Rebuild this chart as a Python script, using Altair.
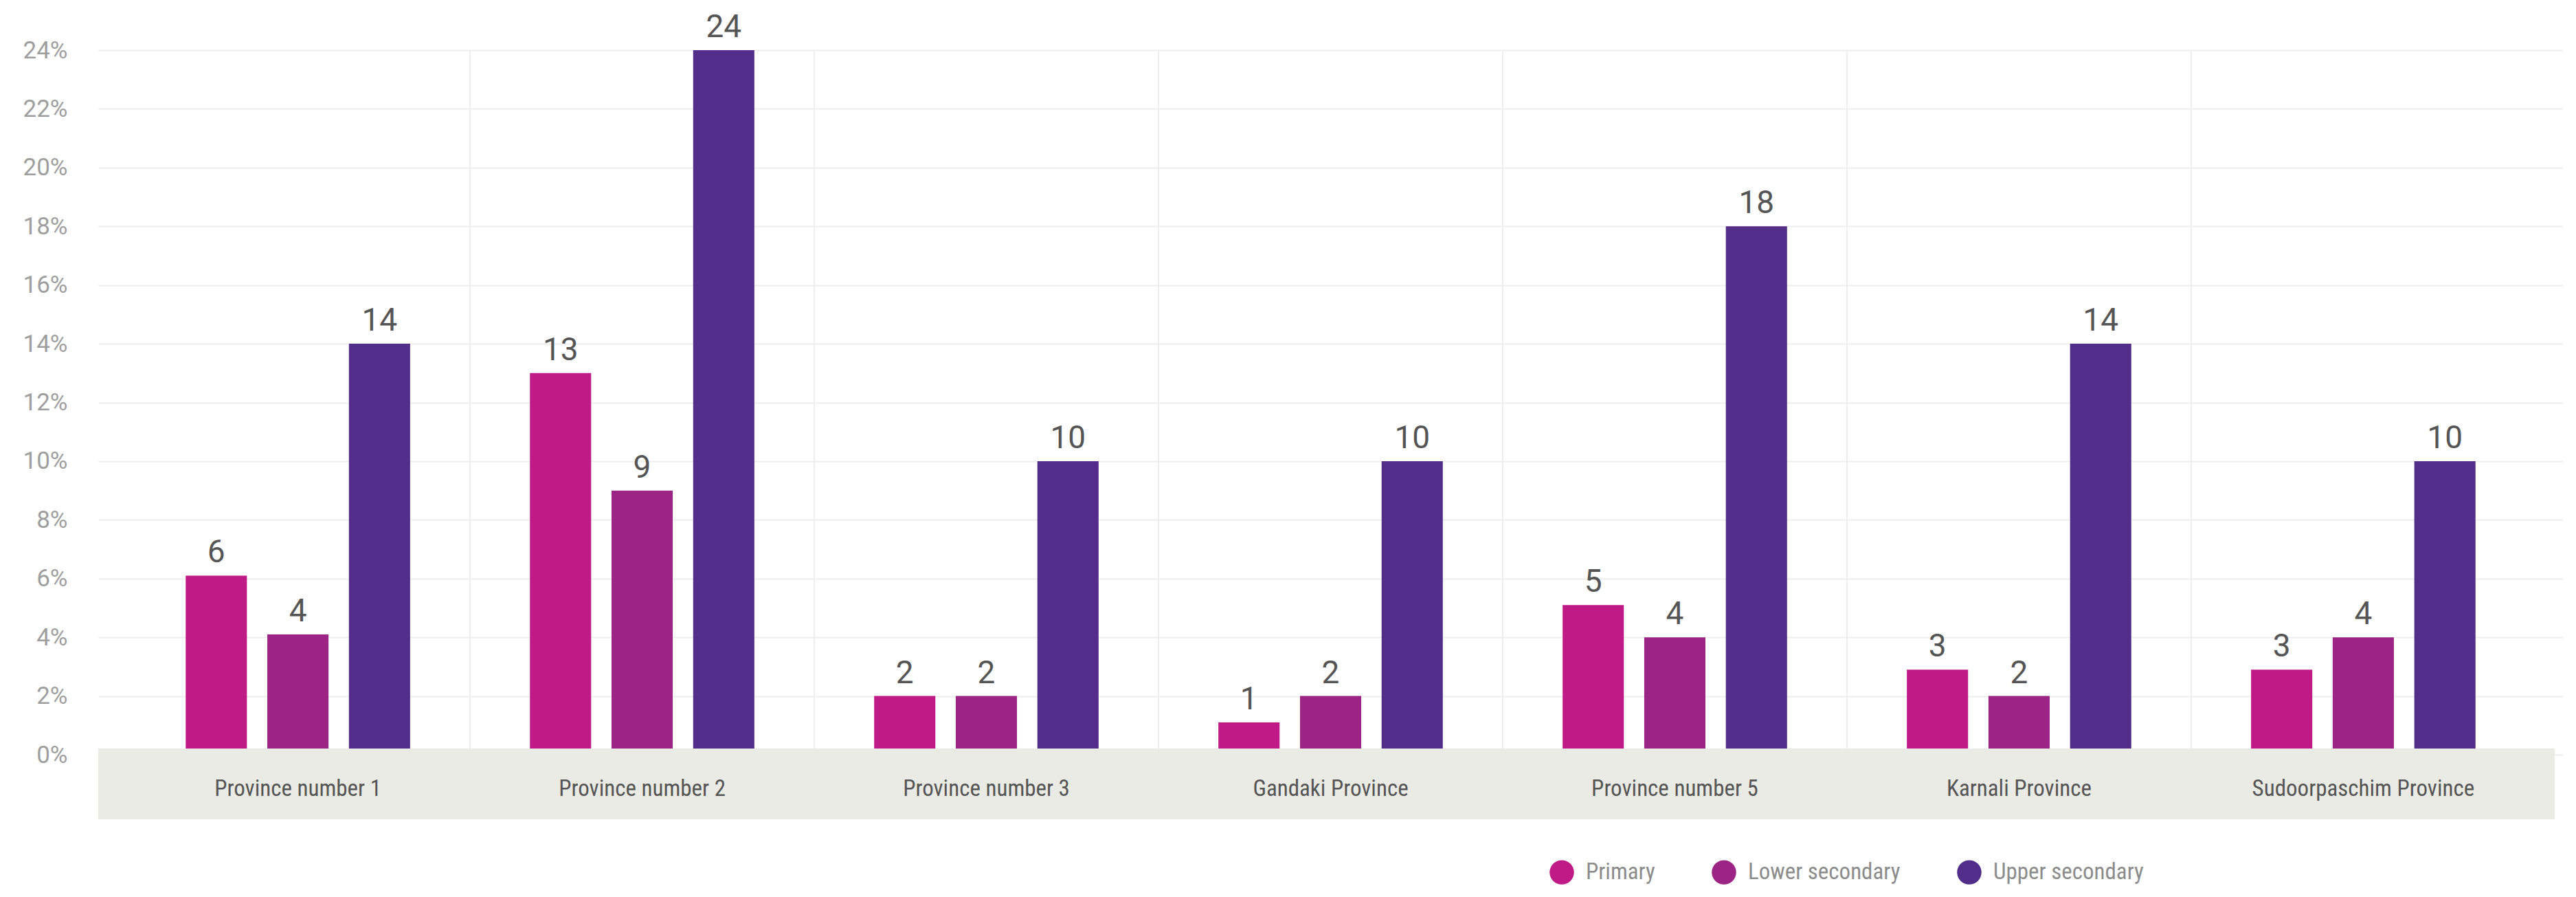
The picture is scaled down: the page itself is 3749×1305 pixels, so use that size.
import altair as alt
import pandas as pd

provinces = ["Province number 1", "Province number 2", "Province number 3",
             "Gandaki Province", "Province number 5", "Karnali Province",
             "Sudoorpaschim Province"]
levels = ["Primary", "Lower secondary", "Upper secondary"]
colors = ["#C01A86", "#9B2484", "#532D8A"]

primary = [6.1, 13.0, 2.0, 1.1, 5.1, 2.9, 2.9]
lower_secondary = [4.1, 9.0, 2.0, 2.0, 4.0, 2.0, 4.0]
upper_secondary = [14, 24, 10, 10, 18, 14, 10]
y_ticks = [0, 2, 4, 6, 8, 10, 12, 14, 16, 18, 20, 22, 24]

rows = []
for i, p in enumerate(provinces):
    for lvl, series in zip(levels, [primary, lower_secondary, upper_secondary]):
        rows.append({"province": p, "level": lvl, "value": series[i]})
df = pd.DataFrame(rows)
div_df = pd.DataFrame({"province": provinces[1:]})
band_df = pd.DataFrame({"k": [0]})

PLOT_W = 3587
PLOT_H = 1025
NARROW = "Roboto Condensed, Liberation Sans Narrow, DejaVu Sans Condensed, Arial Narrow, sans-serif"

x_enc = alt.X("province:N",
              scale=alt.Scale(domain=provinces, paddingInner=0, paddingOuter=0.08),
              axis=alt.Axis(title=None, labelAngle=0, ticks=False, tickSize=0, domain=False,
                            grid=False, labelPadding=49, labelBaseline="middle",
                            labelAlign="center", bandPosition=0.5,
                            labelFont=NARROW, labelFontSize=33, labelColor="#555555",
                            labelOverlap=False, labelLimit=0, zindex=1))
xo_enc = alt.XOffset("level:N",
                     scale=alt.Scale(domain=levels, paddingInner=0.25, paddingOuter=0.734))
y_enc = alt.Y("value:Q",
              scale=alt.Scale(domain=[0, 24], nice=False, zero=True),
              axis=alt.Axis(values=y_ticks, labelExpr="datum.value + '%'", title=None,
                            domain=False, ticks=False, tickSize=0, labelPadding=45,
                            gridColor="#eeeeee", gridWidth=2, labelFont="Roboto",
                            labelFontSize=35, labelColor="#9e9e9e", zindex=0))
color_enc = alt.Color("level:N",
                      scale=alt.Scale(domain=levels, range=colors),
                      legend=alt.Legend(title=None, orient="none", direction="horizontal",
                                        legendX=2112, legendY=1178, symbolType="circle",
                                        symbolSize=1257, symbolStrokeWidth=0,
                                        labelFont=NARROW, labelFontSize=33,
                                        labelColor="#8c8c8c", labelOffset=17,
                                        columnPadding=82, padding=0, labelLimit=0))

dividers = alt.Chart(div_df).mark_rule(color="#eeeeee", strokeWidth=2).encode(
    x=alt.X("province:N", bandPosition=0)
)

bars = alt.Chart(df).mark_bar().encode(
    x=x_enc, xOffset=xo_enc, y=y_enc, color=color_enc
)

labels = alt.Chart(df).mark_text(
    font="Roboto", fontSize=46, color="#555555", baseline="alphabetic", dy=-19
).encode(
    x=alt.X("province:N"), xOffset=alt.XOffset("level:N"), y=alt.Y("value:Q"),
    text=alt.Text("value:Q", format=".0f")
)

band = alt.Chart(band_df).mark_rect(color="#ebebe6").encode(
    x=alt.value(0), x2=alt.value(3575), y=alt.value(PLOT_H - 9), y2=alt.value(PLOT_H + 94)
)

chart = alt.layer(dividers, bars, labels, band).properties(
    width=PLOT_W, height=PLOT_H,
    autosize=alt.AutoSizeParams(type="none"),
    padding={"left": 135, "top": 65, "right": 0, "bottom": 190},
    background="white",
).configure_view(stroke=None)

chart.save("out.html", embed_options={"renderer": "svg", "actions": False})
